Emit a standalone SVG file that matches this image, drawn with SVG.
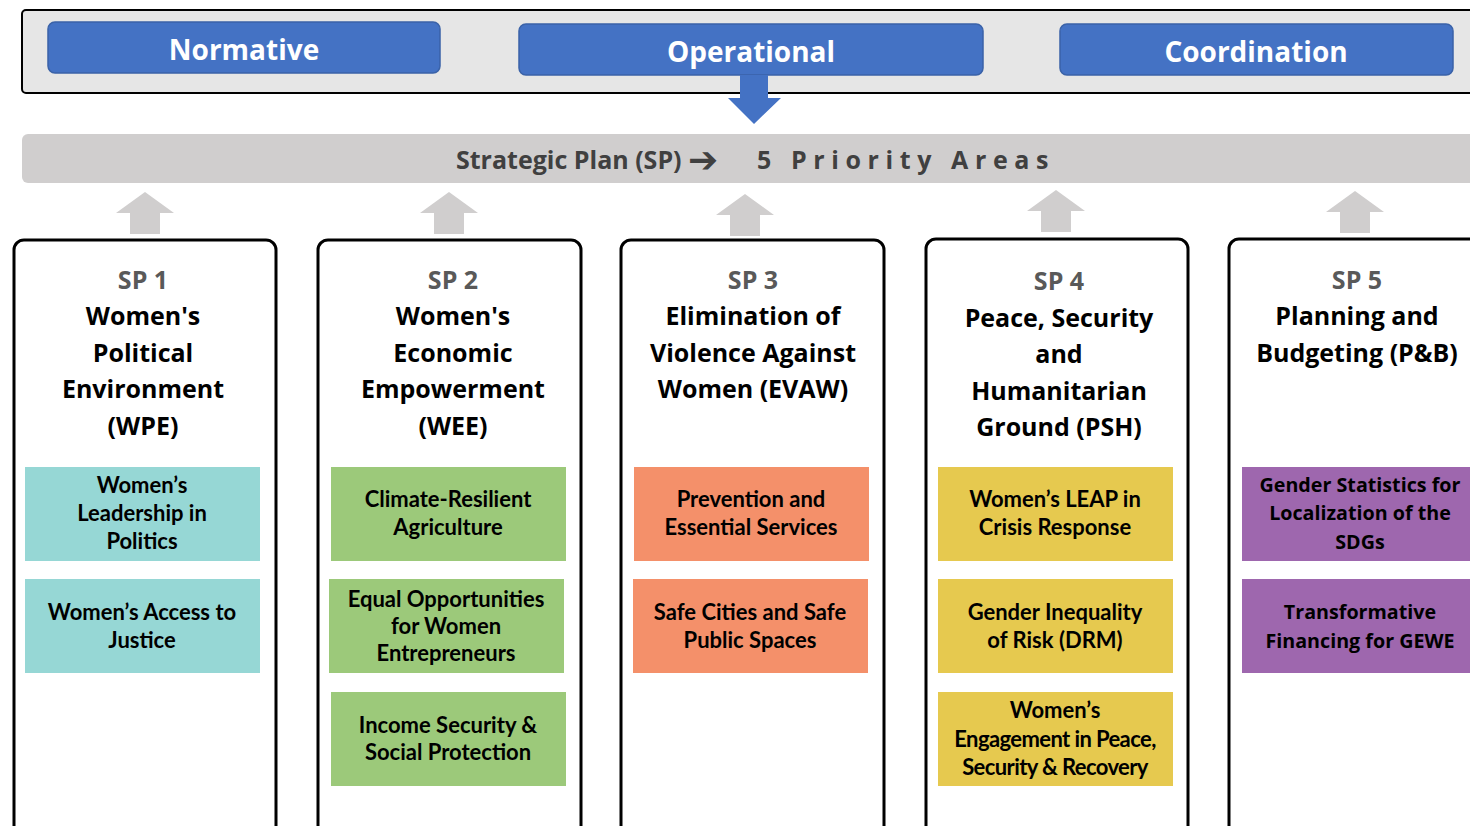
<svg xmlns="http://www.w3.org/2000/svg" width="1470" height="826" viewBox="0 0 1470 826">
<defs>
<style>
.btn{fill:#4472c4;stroke:#3a62a8;stroke-width:1.5}
.btnt{font-family:"Open Sans","Noto Sans",sans-serif;font-weight:700;font-size:28px;fill:#fff;text-anchor:middle}
.col{fill:#fff;stroke:#000;stroke-width:3}
.sp{font-family:"Open Sans","Noto Sans",sans-serif;font-weight:700;font-size:25px;fill:#595959;text-anchor:middle}
.ttl{font-family:"Open Sans","Noto Sans",sans-serif;font-weight:700;font-size:25px;fill:#000;text-anchor:middle}
.sub{font-family:Lato,"Liberation Sans",sans-serif;font-weight:700;font-size:22px;fill:#000;text-anchor:middle}
.sub5{font-family:"Open Sans","Noto Sans",sans-serif;font-weight:700;font-size:19.7px;fill:#000;text-anchor:middle}
.up{fill:#d0cece}
.teal{fill:#96d7d5}.green{fill:#9cc97a}.orange{fill:#f4906a}.yellow{fill:#e6c94f}.purple{fill:#9e67ae}
</style>
</defs>
<rect width="1470" height="826" fill="#fff"/>
<g id="pillars">
<rect x="22" y="10" width="1470" height="83" rx="4" fill="#e6e6e6" stroke="#000" stroke-width="2"/>
<g id="normative"><rect class="btn" x="48" y="22" width="392" height="51" rx="7"/><text class="btnt" x="244" y="60">Normative</text></g>
<g id="operational"><rect class="btn" x="519" y="24" width="464" height="51" rx="7"/><text class="btnt" x="751" y="62">Operational</text></g>
<g id="coordination"><rect class="btn" x="1060" y="24" width="393" height="51" rx="7"/><text class="btnt" x="1256" y="62">Coordination</text></g>
</g>
<g id="connectors">
<polygon points="740,75 768,75 768,98 781,98 754,124 728,98 740,98" fill="#4472c4"/>
<polygon class="up" points="145,192 174,213 160,213 160,234 130,234 130,213 116,213"/>
<polygon class="up" points="449,192 478,213 464,213 464,234 434,234 434,213 420,213"/>
<polygon class="up" points="745,194 774,215 760,215 760,236 730,236 730,215 716,215"/>
<polygon class="up" points="1056,190 1085,211 1071,211 1071,232 1041,232 1041,211 1027,211"/>
<polygon class="up" points="1355,191 1384,212 1370,212 1370,233 1340,233 1340,212 1326,212"/>
</g>
<g id="strategic-plan">
<rect x="22" y="134" width="1470" height="49" rx="6" fill="#d0cece"/>
<text x="456" y="169" font-family="'Open Sans','Noto Sans',sans-serif" font-weight="700" font-size="25" fill="#404040">Strategic Plan (SP) <tspan font-family="'DejaVu Sans',sans-serif" font-size="36" dy="3">➔</tspan></text>
<text x="757" y="169" font-family="'Open Sans','Noto Sans',sans-serif" font-weight="700" font-size="25" fill="#404040" letter-spacing="6.6">5 Priority Areas</text>
</g>
<g id="sp1">
<rect class="col" x="14" y="240" width="262" height="620" rx="10"/>
<text class="sp" x="143" y="289">SP 1</text>
<text class="ttl" x="143" y="325">Women's</text>
<text class="ttl" x="143" y="362">Political</text>
<text class="ttl" x="143" y="398">Environment</text>
<text class="ttl" x="143" y="435">(WPE)</text>
<g id="sp1a"><rect class="teal" x="25" y="467" width="235" height="94"/><text class="sub" x="142" y="493">Women’s</text><text class="sub" x="142" y="521">Leadership in</text><text class="sub" x="142" y="549">Politics</text></g>
<g id="sp1b"><rect class="teal" x="25" y="579" width="235" height="94"/><text class="sub" x="142" y="620">Women’s Access to</text><text class="sub" x="142" y="648">Justice</text></g>
</g>
<g id="sp2">
<rect class="col" x="318" y="240" width="263" height="620" rx="10"/>
<text class="sp" x="453" y="289">SP 2</text>
<text class="ttl" x="453" y="325">Women's</text>
<text class="ttl" x="453" y="362">Economic</text>
<text class="ttl" x="453" y="398">Empowerment</text>
<text class="ttl" x="453" y="435">(WEE)</text>
<g id="sp2a"><rect class="green" x="331" y="467" width="235" height="94"/><text class="sub" x="448" y="507">Climate-Resilient</text><text class="sub" x="448" y="535">Agriculture</text></g>
<g id="sp2b"><rect class="green" x="329" y="579" width="235" height="94"/><text class="sub" x="446" y="607">Equal Opportunities</text><text class="sub" x="446" y="634">for Women</text><text class="sub" x="446" y="661">Entrepreneurs</text></g>
<g id="sp2c"><rect class="green" x="331" y="692" width="235" height="94"/><text class="sub" x="448" y="733">Income Security &amp;</text><text class="sub" x="448" y="760">Social Protection</text></g>
</g>
<g id="sp3">
<rect class="col" x="621" y="240" width="263" height="620" rx="10"/>
<text class="sp" x="753" y="289">SP 3</text>
<text class="ttl" x="753" y="325">Elimination of</text>
<text class="ttl" x="753" y="362">Violence Against</text>
<text class="ttl" x="753" y="398">Women (EVAW)</text>
<g id="sp3a"><rect class="orange" x="634" y="467" width="235" height="94"/><text class="sub" x="751" y="507">Prevention and</text><text class="sub" x="751" y="535">Essential Services</text></g>
<g id="sp3b"><rect class="orange" x="633" y="579" width="235" height="94"/><text class="sub" x="750" y="620">Safe Cities and Safe</text><text class="sub" x="750" y="648">Public Spaces</text></g>
</g>
<g id="sp4">
<rect class="col" x="926" y="239" width="262" height="620" rx="10"/>
<text class="sp" x="1059" y="290">SP 4</text>
<text class="ttl" x="1059" y="327">Peace, Security</text>
<text class="ttl" x="1059" y="363">and</text>
<text class="ttl" x="1059" y="400">Humanitarian</text>
<text class="ttl" x="1059" y="436">Ground (PSH)</text>
<g id="sp4a"><rect class="yellow" x="938" y="467" width="235" height="94"/><text class="sub" x="1055" y="507">Women’s LEAP in</text><text class="sub" x="1055" y="535">Crisis Response</text></g>
<g id="sp4b"><rect class="yellow" x="938" y="579" width="235" height="94"/><text class="sub" x="1055" y="620">Gender Inequality</text><text class="sub" x="1055" y="648">of Risk (DRM)</text></g>
<g id="sp4c"><rect class="yellow" x="938" y="692" width="235" height="94"/><text class="sub" x="1055" y="718">Women’s</text><text class="sub" x="1055" y="747" letter-spacing="-0.6">Engagement in Peace,</text><text class="sub" x="1055" y="775" letter-spacing="-0.6">Security &amp; Recovery</text></g>
</g>
<g id="sp5">
<rect class="col" x="1229" y="239" width="300" height="620" rx="10"/>
<text class="sp" x="1357" y="289">SP 5</text>
<text class="ttl" x="1357" y="325">Planning and</text>
<text class="ttl" x="1357" y="362">Budgeting (P&amp;B)</text>
<g id="sp5a"><rect class="purple" x="1242" y="467" width="240" height="94"/><text class="sub5" x="1360" y="492">Gender Statistics for</text><text class="sub5" x="1360" y="520">Localization of the</text><text class="sub5" x="1360" y="549">SDGs</text></g>
<g id="sp5b"><rect class="purple" x="1242" y="579" width="240" height="94"/><text class="sub5" x="1360" y="619">Transformative</text><text class="sub5" x="1360" y="648">Financing for GEWE</text></g>
</g>
</svg>
